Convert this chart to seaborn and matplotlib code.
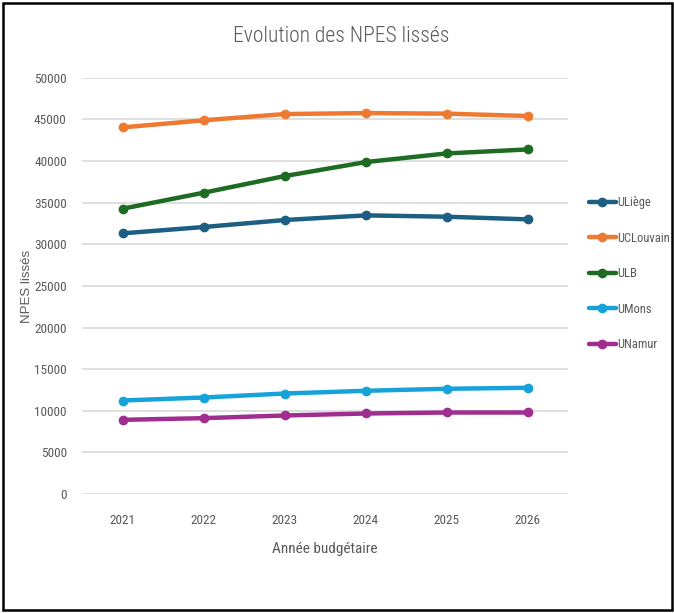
import pandas as pd
import numpy as np
import matplotlib
matplotlib.use('Agg')
import matplotlib.pyplot as plt
import seaborn as sns
from matplotlib.patches import Rectangle

# =====================
# DATA
# =====================
years = [2021, 2022, 2023, 2024, 2025, 2026]
universities = ['ULiège', 'UCLouvain', 'ULB', 'UMons', 'UNamur']
uliege = [31320, 32080, 32920, 33480, 33320, 33000]
uclouvain = [44050, 44900, 45650, 45770, 45700, 45420]
ulb = [34280, 36200, 38200, 39880, 40920, 41400]
umons = [11240, 11600, 12080, 12410, 12650, 12770]
unamur = [8920, 9120, 9440, 9680, 9800, 9800]
colors = ['#1D5E83', '#EE7A32', '#1E6B23', '#17A2DA', '#A02D90']

series = [uliege, uclouvain, ulb, umons, unamur]
df = pd.DataFrame({
    'Année': years * len(universities),
    'NPES': sum(series, []),
    'Université': [u for u in universities for _ in years],
})

# =====================
# PLOT
# =====================
sns.set_style('white')
plt.rcParams['font.family'] = ['Roboto Condensed', 'Liberation Sans', 'DejaVu Sans']
grey = '#595959'

fig = plt.figure(figsize=(6.74, 6.13), dpi=100)
ax = fig.add_axes([0.1217, 0.194, 0.7213, 0.679])

sns.lineplot(data=df, x='Année', y='NPES', hue='Université', hue_order=universities,
             palette=colors, marker='o', markersize=7, markeredgewidth=0,
             linewidth=3.2, ax=ax)

ax.set_xlim(2020.5, 2026.5)
ax.set_ylim(0, 50000)
ax.set_yticks(np.arange(0, 50001, 5000))
ax.set_xticks(years)
ax.grid(axis='y', color='#D9D9D9', linewidth=1.2)
ax.grid(axis='x', visible=False)
for s in ax.spines.values():
    s.set_visible(False)
ax.tick_params(colors=grey, labelsize=9.5, length=0)
ax.tick_params(axis='y', pad=11)
ax.tick_params(axis='x', pad=14)

ax.set_xlabel('Année budgétaire', color=grey, fontsize=11, labelpad=11)
ax.set_ylabel('NPES lissés', color=grey, fontsize=9.5, labelpad=0.5,
              family=['Liberation Sans', 'DejaVu Sans'])
fig.text(341 / 674, 1 - 37 / 613, 'Evolution des NPES lissés', color=grey, fontsize=15.5,
         fontweight='light', ha='center', va='center')

ax.legend(frameon=False, loc='upper left', bbox_to_anchor=(578 / 674, 428 / 613),
          bbox_transform=fig.transFigure, labelspacing=1.8, handlelength=2.1,
          handletextpad=0.1, fontsize=9, labelcolor=grey)

# border
fig.patches.append(Rectangle((0.004, 0.005), 0.993, 0.99, transform=fig.transFigure,
                             fill=False, edgecolor='black', linewidth=1.8))

plt.savefig('out.png', dpi=100, facecolor='white')
